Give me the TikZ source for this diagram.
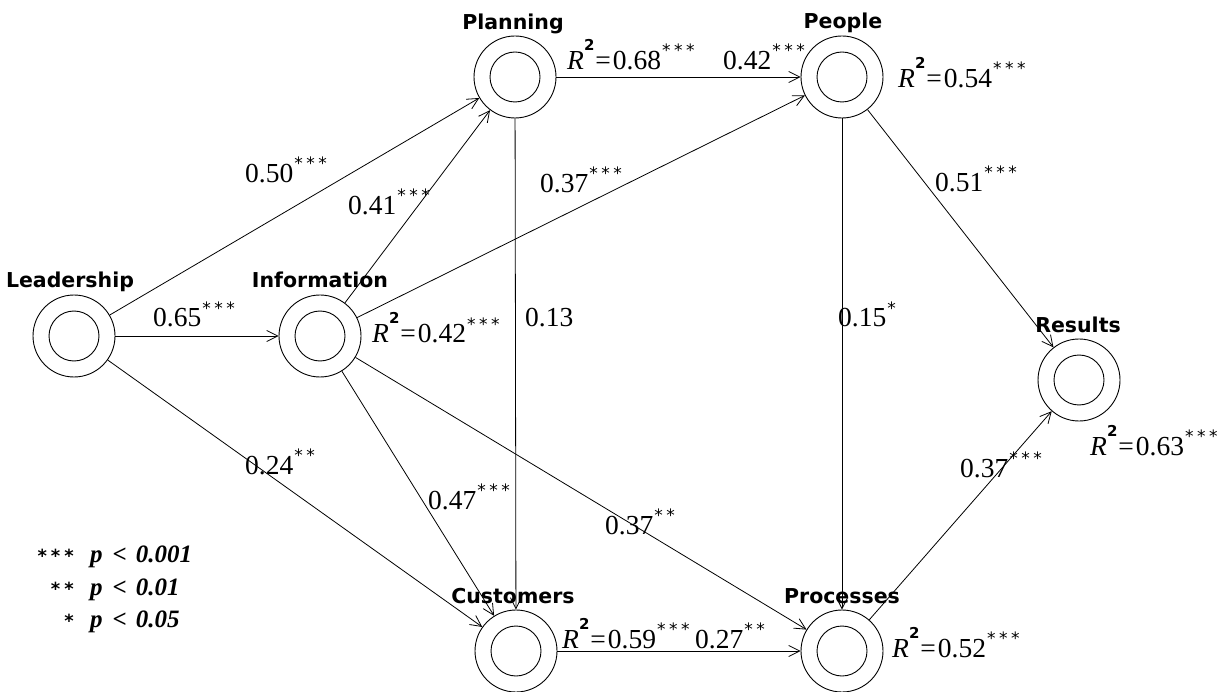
\documentclass[tikz,border=0pt]{standalone}
\usepackage{fontspec}
\setmainfont{Liberation Serif}
\newfontfamily\labfont{DejaVu Sans}
\newfontfamily\starfont{DejaVu Sans}
\usetikzlibrary{arrows.meta}
\newcommand\starsx[1]{\raisebox{13pt}{\starfont\fontsize{17}{17}\selectfont\ifcase#1\or*\or*\kern3.5pt*\or*\kern3.5pt*\kern3.5pt*\fi}}
\newcommand\pv[2]{#1\kern1pt\starsx{#2}}
\newcommand\rsq[2]{{\itshape R}\kern0pt\raisebox{19pt}{\labfont\bfseries\fontsize{15}{15}\selectfont 2}\kern1pt=\kern2pt#1\kern1pt\starsx{#2}}
\begin{document}
\begin{tikzpicture}[x=1pt,y=-1pt,
  concept/.style={circle,draw,line width=0.9pt,minimum size=82pt,inner sep=0pt,
    path picture={\draw[line width=0.9pt] (path picture bounding box.center) circle (25pt);}},
  nlabel/.style={anchor=base,inner sep=0pt,font=\labfont\bfseries\fontsize{20.5}{20.5}\selectfont},
  val/.style={anchor=base west,inner sep=0pt,font=\fontsize{27.5}{27.5}\selectfont},
  leg/.style={inner sep=0pt,font=\bfseries\itshape\fontsize{25}{25}\selectfont},
  legstar/.style={anchor=base east,inner sep=0pt,font=\starfont\bfseries\fontsize{18}{18}\selectfont},
  arr/.style={line width=0.8pt,-{Straight Barb[length=11pt,width=11pt,line width=0.8pt]}}]
\useasboundingbox (0,0) rectangle (1231,692);
% nodes
\node[concept] (lead) at (74,336) {};
\node[concept] (info) at (320,336) {};
\node[concept] (plan) at (515,77) {};
\node[concept] (peop) at (842,77) {};
\node[concept] (cust) at (516,651) {};
\node[concept] (proc) at (842,651) {};
\node[concept] (res) at (1079,380) {};
% node labels
\node[nlabel] (leadL) at (70,288) {Leadership};
\node[nlabel] (infoL) at (320,288) {Information};
\node[nlabel] (planL) at (513,30) {Planning};
\node[nlabel] (peopL) at (843,29) {People};
\node[nlabel] (custL) at (513,603) {Customers};
\node[nlabel] (procL) at (842,603) {Processes};
\node[nlabel] (resL) at (1078,333) {Results};
% connectors
\draw[arr] (lead) -- (plan);
\draw[arr] (lead) -- (info);
\draw[arr] (lead) -- (cust);
\draw[arr] (info) -- (plan);
\draw[arr] (info) -- (peop);
\draw[arr] (info) -- (cust);
\draw[arr] (info) -- (proc);
\draw[arr] (plan) -- (peop);
\draw[arr] (plan) -- (cust);
\draw[arr] (peop) -- (proc);
\draw[arr] (peop) -- (res);
\draw[arr] (cust) -- (proc);
\draw[arr] (proc) -- (res);
% coefficient labels
\node[val] (v1) at (245,183) {\pv{0.50}{3}};
\node[val] (v2) at (348,215) {\pv{0.41}{3}};
\node[val] (v3) at (540,193) {\pv{0.37}{3}};
\node[val] (v4) at (153,327) {\pv{0.65}{3}};
\node[val] (v5) at (525,327) {0.13};
\node[val] (v6) at (838,327) {\pv{0.15}{1}};
\node[val] (v7) at (935,192) {\pv{0.51}{3}};
\node[val] (v8) at (245,474) {\pv{0.24}{2}};
\node[val] (v9) at (428,509) {\pv{0.47}{3}};
\node[val] (v10) at (605,534) {\pv{0.37}{2}};
\node[val] (v11) at (960,477) {\pv{0.37}{3}};
\node[val] (v12) at (723,70) {\pv{0.42}{3}};
\node[val] (v13) at (695,648) {\pv{0.27}{2}};
% R squared labels
\node[val] (r1) at (567,70) {\rsq{0.68}{3}};
\node[val] (r2) at (898,88) {\rsq{0.54}{3}};
\node[val] (r3) at (372,343) {\rsq{0.42}{3}};
\node[val] (r4) at (1090,455) {\rsq{0.63}{3}};
\node[val] (r5) at (562,648) {\rsq{0.59}{3}};
\node[val] (r6) at (892,657) {\rsq{0.52}{3}};
% legend
\node[legstar] (s1) at (74,562) {*\kern4pt*\kern4pt*};
\node[legstar] (s2) at (74,595) {*\kern4pt*};
\node[legstar] (s3) at (74,627) {*};
\node[leg,anchor=base west] (l1) at (90,562) {p\hspace{10pt}<\hspace{9pt}0.001};
\node[leg,anchor=base west] (l2) at (90,595) {p\hspace{10pt}<\hspace{9pt}0.01};
\node[leg,anchor=base west] (l3) at (90,627) {p\hspace{10pt}<\hspace{9pt}0.05};
\end{tikzpicture}
\end{document}
